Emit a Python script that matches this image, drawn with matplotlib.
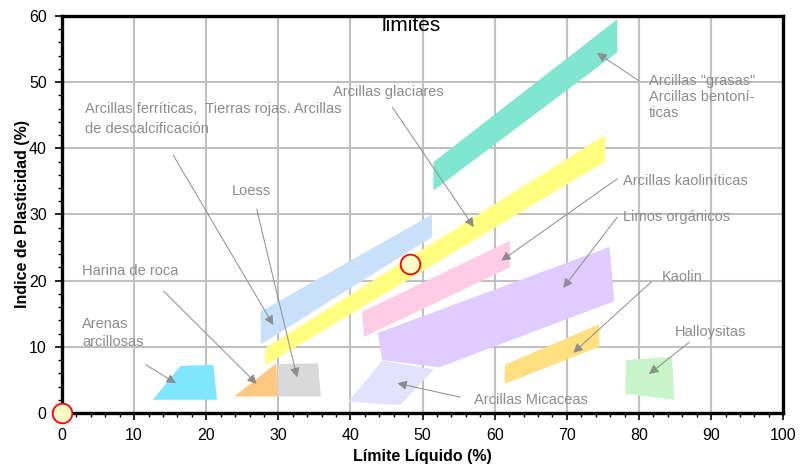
import matplotlib
matplotlib.use("Agg")
import matplotlib.pyplot as plt
from matplotlib.patches import Polygon

plt.rcParams['font.family'] = ['Liberation Sans', 'DejaVu Sans']

# ---- data: polygon vertices (Límite Líquido, Índice de Plasticidad) ----
grasas_x = [51.5, 51.5, 77.0, 77.0]
grasas_y = [33.6, 37.9, 59.5, 54.5]
glaciares_x = [28.2, 28.2, 75.3, 75.3]
glaciares_y = [7.2, 9.8, 42.0, 38.0]
ferriticas_x = [27.6, 27.5, 51.3, 51.3]
ferriticas_y = [10.4, 15.3, 30.0, 26.6]
kaoliniticas_x = [41.9, 41.6, 62.1, 62.1]
kaoliniticas_y = [11.5, 15.3, 26.0, 22.0]
limos_x = [44.4, 43.8, 75.9, 76.6, 52.3]
limos_y = [8.0, 12.1, 25.1, 16.9, 6.9]
micaceas_x = [39.7, 44.4, 51.6, 46.9]
micaceas_y = [1.7, 7.9, 6.6, 1.2]
kaolin_x = [61.4, 61.4, 74.5, 74.5]
kaolin_y = [4.4, 7.3, 13.4, 10.0]
halloy_x = [78.1, 78.2, 84.6, 84.9]
halloy_y = [2.9, 8.0, 8.5, 2.0]
arenas_x = [12.6, 16.4, 21.0, 21.5]
arenas_y = [2.0, 7.1, 7.3, 2.0]
harina_x = [23.9, 29.7, 29.9]
harina_y = [2.5, 7.5, 2.5]
loess_x = [29.9, 35.5, 35.9, 29.9]
loess_y = [7.4, 7.5, 2.5, 2.5]

region_colors = ['#80E6D0', '#FFFF80', '#C8E0FA', '#FFCCE6', '#E0CCFF',
                 '#E2E2FF', '#FFE080', '#C8F5C8', '#80E6FF', '#FFC880', '#D9D9D9']

# labels: text, text position, arrow target
labels = ['Arcillas ferríticas,  Tierras rojas. Arcillas\nde descalcificación',
          'Arcillas glaciares', 'Arcillas "grasas"\nArcillas bentoní-\nticas',
          'Arcillas kaoliníticas', 'Limos orgánicos', 'Loess', 'Harina de roca',
          'Arenas\narcillosas', 'Kaolin', 'Halloysitas', 'Arcillas Micaceas']
label_x = [3.2, 37.6, 81.4, 77.8, 77.8, 23.5, 2.8, 2.8, 83.2, 84.9, 57.1]
label_y = [44.4, 48.5, 47.7, 35.0, 29.6, 33.5, 21.4, 12.1, 20.5, 12.2, 2.0]
arrow_start_x = [15.4, 45.8, 80.0, 77.0, 77.0, 27.0, 14.1, 11.6, 81.7, 87.0, 55.2]
arrow_start_y = [39.0, 46.2, 50.2, 35.4, 29.6, 30.8, 18.4, 7.3, 19.8, 10.7, 2.4]
arrow_end_x = [29.3, 57.1, 74.2, 60.9, 69.5, 32.6, 27.0, 15.8, 70.9, 81.4, 46.5]
arrow_end_y = [13.3, 28.1, 54.4, 23.0, 18.9, 5.4, 4.4, 4.5, 9.1, 5.9, 4.5]

points_x = [0, 48.3]
points_y = [0, 22.5]

x_ticks = [0, 10, 20, 30, 40, 50, 60, 70, 80, 90, 100]
y_ticks = [0, 10, 20, 30, 40, 50, 60]

# ---- figure ----
fig = plt.figure(figsize=(8, 4.68), dpi=100)
ax = fig.add_axes([0.0775, 0.1175, 0.9015, 0.8485])

regions = [(grasas_x, grasas_y), (glaciares_x, glaciares_y), (ferriticas_x, ferriticas_y),
           (kaoliniticas_x, kaoliniticas_y), (limos_x, limos_y), (micaceas_x, micaceas_y),
           (kaolin_x, kaolin_y), (halloy_x, halloy_y), (arenas_x, arenas_y),
           (harina_x, harina_y), (loess_x, loess_y)]
for (px, py), c in zip(regions, region_colors):
    ax.add_patch(Polygon(list(zip(px, py)), closed=True, facecolor=c,
                         edgecolor='none', zorder=2))

spacing = {0: 1.5, 2: 1.17, 7: 1.37}
for i, (t, tx, ty, sx, sy, ex, ey) in enumerate(zip(labels, label_x, label_y, arrow_start_x,
                                                    arrow_start_y, arrow_end_x, arrow_end_y)):
    ax.text(tx, ty, t, color='#8C8C8C', fontsize=10.5, ha='left', va='center',
            linespacing=spacing.get(i, 1.0), zorder=4)
    ax.annotate('', xy=(ex, ey), xytext=(sx, sy),
                arrowprops=dict(arrowstyle='-|>', color='#8C8C8C', lw=0.7,
                                mutation_scale=14, shrinkA=0, shrinkB=0),
                zorder=4)

ax.scatter(points_x, points_y, s=200, facecolor='#FFFFC8', edgecolor='red',
           linewidth=1.3, zorder=6, clip_on=False)

ax.text(48.4, 58.6, 'limites', fontsize=15, ha='center', va='center', color='black')

ax.set_xlim(0, 100)
ax.set_ylim(0, 60)
ax.set_xticks(x_ticks)
ax.set_yticks(y_ticks)
ax.set_xticks(range(0, 101, 2), minor=True)
ax.set_yticks(range(0, 61, 2), minor=True)
ax.grid(True, which='major', color='#C0C0C0', linewidth=1.5, zorder=1)
ax.set_axisbelow(True)
ax.tick_params(axis='both', which='major', labelsize=11.5, length=5, width=1.2,
               direction='out', pad=6)
ax.tick_params(axis='both', which='minor', length=3, width=1.0, direction='out')
for s in ax.spines.values():
    s.set_linewidth(2.4)
    s.set_color('black')

ax.set_xlabel('Límite Líquido (%)', fontsize=11.5, fontweight='bold', labelpad=4)
ax.set_ylabel('Indice de Plasticidad (%)', fontsize=11.5, fontweight='bold', labelpad=-1)

fig.savefig('out.png', dpi=100)
